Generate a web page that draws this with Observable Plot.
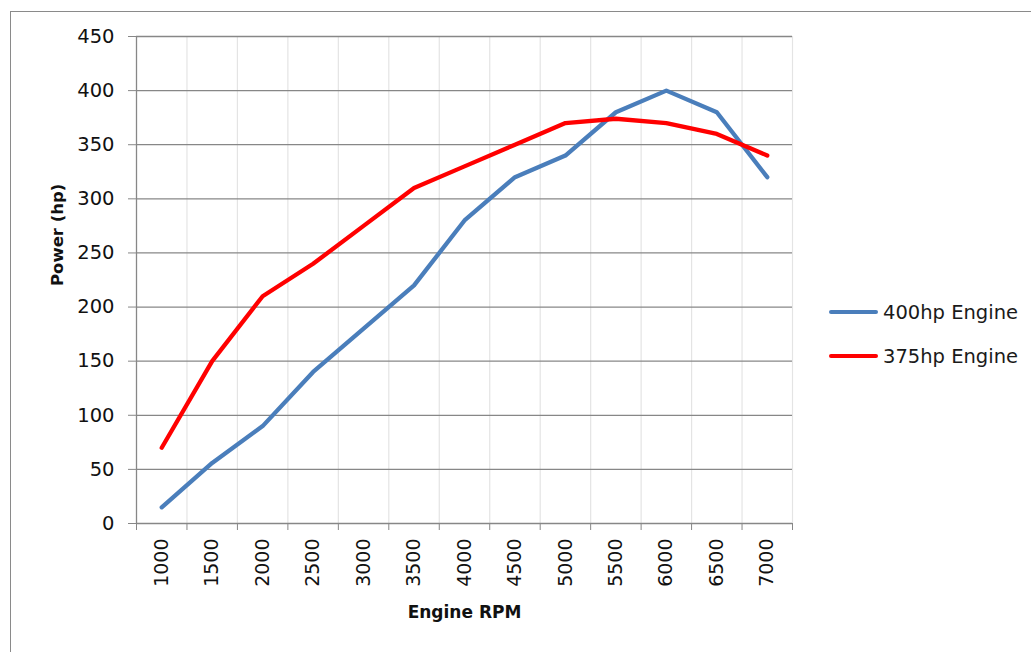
<!DOCTYPE html>
<html><head><meta charset="utf-8">
<script src="https://cdn.jsdelivr.net/npm/d3@7"></script>
<script src="https://cdn.jsdelivr.net/npm/@observablehq/plot@0.6"></script>
<style>
html,body{margin:0;padding:0;overflow:hidden;background:#fff}
#wrap{position:relative;width:1031px;height:652px;font-family:"DejaVu Sans",sans-serif}
#frame{position:absolute;left:10px;top:11px;width:1040px;height:660px;border:1.5px solid #8a8a8a;box-sizing:border-box}
#chart{position:absolute;left:0;top:0}
#legend{position:absolute;left:829px;top:290px;font-size:19.5px;color:#1a1a1a}
.item{display:flex;align-items:center;height:44px}
.sw{width:49px;height:4.5px;border-radius:2px;margin-right:5px}
</style></head>
<body><div id="wrap"><div id="frame"></div><div id="chart"></div><div id="legend"></div></div>
<script>
const rpm = [1000,1500,2000,2500,3000,3500,4000,4500,5000,5500,6000,6500,7000];
const hp400 = [15,56,90,140,180,220,280,320,340,380,400,380,320];
const hp375 = [70,150,210,240,275,310,330,350,370,374,370,360,340];
const seriesNames = ["400hp Engine","375hp Engine"];
const seriesColors = ["#4a7ebb","#ff0000"];
const yTicks = [0,50,100,150,200,250,300,350,400,450];
const xTitle = "Engine RPM";
const yTitle = "Power (hp)";

const idx = rpm.map((_, i) => i);
const bounds = d3.range(rpm.length + 1).map(i => i - 0.5);
const rows = [
  ...rpm.map((r, i) => ({i, rpm: r, hp: hp400[i], series: seriesNames[0]})),
  ...rpm.map((r, i) => ({i, rpm: r, hp: hp375[i], series: seriesNames[1]}))
];

const chart = Plot.plot({
  width: 1031, height: 652,
  marginLeft: 136, marginRight: 239, marginTop: 36, marginBottom: 129,
  style: {fontFamily: "DejaVu Sans, sans-serif", fontSize: "19.5px", color: "#111", background: "transparent"},
  x: {type: "linear", domain: [-0.5, rpm.length - 0.5]},
  y: {domain: [0, 450]},
  color: {domain: seriesNames, range: seriesColors},
  marks: [
    Plot.ruleX(bounds.slice(1), {stroke: "#e4e4e4", strokeWidth: 1.2}),
    Plot.ruleY(yTicks, {stroke: "#878787", strokeWidth: 1.3}),
    Plot.ruleX([bounds[0]], {stroke: "#878787", strokeWidth: 1.3}),
    Plot.axisY({ticks: yTicks, tickSize: 8, tickPadding: 14, stroke: "#878787", label: null, fontSize: 19.5, tickFormat: d => String(d)}),
    Plot.axisX({ticks: bounds, tickSize: 7, stroke: "#878787", fill: "none", label: null}),
    Plot.axisX({ticks: idx, tickSize: 0, tickPadding: 15, tickRotate: -90, tickFormat: i => String(rpm[i]), label: null, fontSize: 19}),
    Plot.line(rows, {x: "i", y: "hp", z: "series", stroke: "series", strokeWidth: 4.3, strokeLinejoin: "round", strokeLinecap: "round"}),
    Plot.text([xTitle], {text: d => d, frameAnchor: "bottom", dy: 94, fontWeight: "bold", fontSize: 17}),
    Plot.text([yTitle], {text: d => d, frameAnchor: "left", dx: -79, dy: 6, rotate: -90, fontWeight: "bold", fontSize: 16.5})
  ]
});
document.getElementById("chart").appendChild(chart);

const legend = document.getElementById("legend");
seriesNames.forEach((name, k) => {
  const item = document.createElement("div");
  item.className = "item";
  const sw = document.createElement("div");
  sw.className = "sw";
  sw.style.background = seriesColors[k];
  const t = document.createElement("span");
  t.textContent = name;
  item.appendChild(sw); item.appendChild(t);
  legend.appendChild(item);
});
</script>
</body></html>
